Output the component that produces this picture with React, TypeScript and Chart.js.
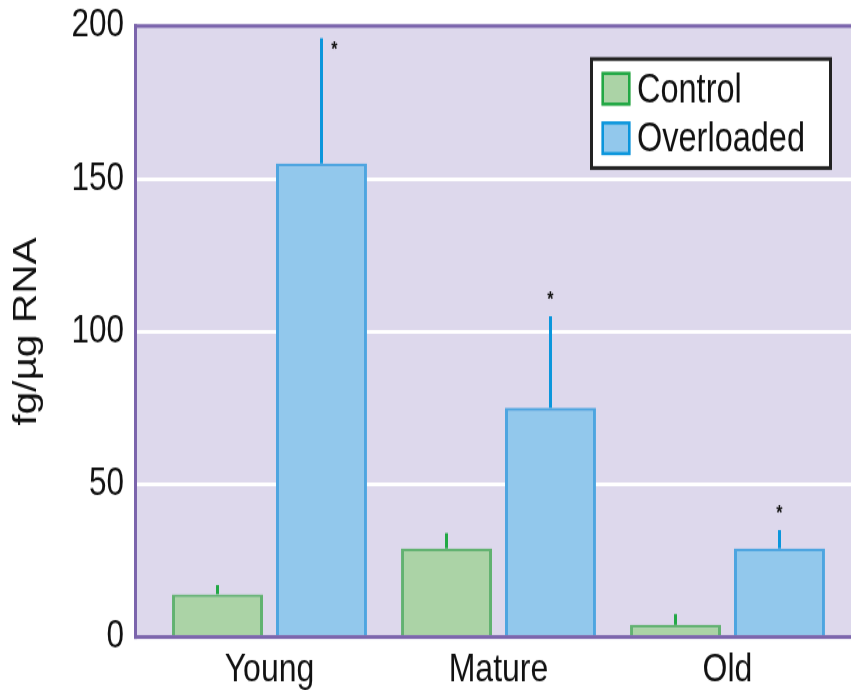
import React, { useEffect, useRef } from "react";
import { Chart, registerables } from "chart.js";

Chart.register(...registerables);

// Age groups along the x axis
const groups = ["Young", "Mature", "Old"];
// Mean expression (fg/µg RNA) and the upper error (SEM) per group
const controlMeans = [14, 29, 4];
const controlErrors = [3, 5, 3.5];
const overloadedMeans = [155, 75, 29];
const overloadedErrors = [41, 30, 6];
// Overloaded significantly different from control
const significant = [true, true, true];
const seriesNames = ["Control", "Overloaded"];
const yTicks = [0, 50, 100, 150, 200];

const FONT = "'Liberation Sans', Arial, Helvetica, sans-serif";
const WIDTH = 851;
const HEIGHT = 690;
// the figure is drawn on a short canvas and shown stretched vertically
const STRETCH = 1.25;
const INNER_H = HEIGHT / STRETCH;

const PLOT_BG = "#DDD8EC";
const FRAME = "#7B64AC";

const plotBackground = {
  id: "plotBackground",
  beforeDraw(chart: any) {
    const { ctx, chartArea } = chart;
    ctx.save();
    ctx.fillStyle = "#ffffff";
    ctx.fillRect(0, 0, chart.width, chart.height);
    ctx.fillStyle = PLOT_BG;
    ctx.fillRect(chartArea.left, chartArea.top, chart.width - chartArea.left, chartArea.bottom - chartArea.top);
    ctx.restore();
  },
};

const errorBars = {
  id: "errorBars",
  afterDatasetsDraw(chart: any) {
    const { ctx, chartArea } = chart;
    const yScale = chart.scales.y;
    ctx.save();
    chart.data.datasets.forEach((ds: any, di: number) => {
      const meta = chart.getDatasetMeta(di);
      meta.data.forEach((bar: any, i: number) => {
        const v = ds.data[i].y;
        const err = ds.errors[i];
        const yTop = yScale.getPixelForValue(v + err);
        ctx.strokeStyle = ds.errorColor;
        ctx.lineWidth = 3;
        ctx.lineCap = "butt";
        ctx.beginPath();
        ctx.moveTo(bar.x, bar.y);
        ctx.lineTo(bar.x, yTop);
        ctx.stroke();
        if (ds.marks && ds.marks[i]) {
          let ax = bar.x;
          let ay = yTop - 15;
          // no room above the whisker: put the mark beside it
          if (ay < chartArea.top + 8) {
            ax = bar.x + 13;
            ay = yTop + 7;
          }
          ctx.fillStyle = "#141414";
          ctx.font = `bold 16px ${FONT}`;
          ctx.textAlign = "center";
          ctx.textBaseline = "middle";
          ctx.fillText("*", ax, ay + 3);
        }
      });
    });
    ctx.restore();
  },
};

const plotFrame = {
  id: "plotFrame",
  afterDatasetsDraw(chart: any) {
    const { ctx, chartArea } = chart;
    ctx.save();
    ctx.fillStyle = FRAME;
    const t = chartArea.top;
    const b = chartArea.bottom;
    const l = chartArea.left;
    ctx.fillRect(l, t - 1.5, chart.width - l, 3);
    ctx.fillRect(l, b - 1.5, chart.width - l, 3);
    ctx.fillRect(l, t - 1.5, 3, b - t + 3);
    ctx.restore();
  },
};

const boxLegend = {
  id: "boxLegend",
  afterDraw(chart: any) {
    const { ctx } = chart;
    const x0 = 591.5;
    const x1 = 830.5;
    const y0 = 47.2;
    const y1 = 134.4;
    ctx.save();
    ctx.fillStyle = "#ffffff";
    ctx.fillRect(x0, y0, x1 - x0, y1 - y0);
    ctx.strokeStyle = "#222222";
    ctx.lineWidth = 3;
    ctx.strokeRect(x0, y0, x1 - x0, y1 - y0);
    chart.data.datasets.forEach((ds: any, i: number) => {
      const cy = 71 + i * 39.6;
      ctx.fillStyle = ds.backgroundColor;
      ctx.fillRect(601.5, cy - 13.5, 29, 27);
      ctx.strokeStyle = ds.errorColor;
      ctx.lineWidth = 2.5;
      ctx.strokeRect(602.75, cy - 12.25, 26.5, 24.5);
      ctx.fillStyle = "#111111";
      ctx.font = `32.5px ${FONT}`;
      ctx.textAlign = "left";
      ctx.textBaseline = "alphabetic";
      ctx.fillText(ds.label, 637, cy + 10.5);
    });
    ctx.restore();
  },
};

export default function App() {
  const canvasRef = useRef<HTMLCanvasElement | null>(null);

  useEffect(() => {
    const canvas = canvasRef.current;
    if (!canvas) return;

    const toPoints = (vals: number[]) => vals.map((y, i) => ({ x: i, y }));

    const chart = new Chart(canvas, {
      type: "bar",
      data: {
        datasets: [
          {
            label: seriesNames[0],
            data: toPoints(controlMeans),
            backgroundColor: "#ABD3A6",
            borderColor: "#62B271",
            borderWidth: { top: 2.4, left: 3, right: 3, bottom: 0 },
            borderSkipped: "start",
            errors: controlErrors,
            errorColor: "#22A845",
            marks: null,
          } as any,
          {
            label: seriesNames[1],
            data: toPoints(overloadedMeans),
            backgroundColor: "#92C8EC",
            borderColor: "#4EA5E0",
            borderWidth: { top: 2.4, left: 3, right: 3, bottom: 0 },
            borderSkipped: "start",
            errors: overloadedErrors,
            errorColor: "#0B96DC",
            marks: significant,
          } as any,
        ],
      },
      options: {
        responsive: false,
        animation: false,
        devicePixelRatio: 1,
        categoryPercentage: 0.908,
        barPercentage: 0.875,
        layout: { padding: { left: 0, right: 0, top: 20.8, bottom: 0 } },
        plugins: {
          legend: { display: false },
          tooltip: { enabled: false },
        },
        scales: {
          x: {
            type: "linear",
            offset: false,
            min: -0.5917,
            max: 2.5393,
            afterBuildTicks: (axis: any) => {
              axis.ticks = groups.map((_, i) => ({ value: i }));
            },
            afterFit: (axis: any) => {
              axis.height = INNER_H - 509.6;
            },
            grid: { display: false, drawTicks: false, offset: false },
            border: { display: false },
            ticks: {
              padding: 7,
              color: "#111111",
              font: { family: FONT, size: 32 },
              callback: (v: any) => groups[v as number] ?? "",
            },
          },
          y: {
            min: 0,
            max: 200,
            afterBuildTicks: (axis: any) => {
              axis.ticks = yTicks.map((value) => ({ value }));
            },
            afterFit: (axis: any) => {
              axis.width = 134;
            },
            grid: {
              drawTicks: false,
              lineWidth: 3,
              color: (c: any) =>
                c.tick && c.tick.value > 0 && c.tick.value < 200 ? "#ffffff" : "rgba(0,0,0,0)",
            },
            border: { display: false },
            ticks: {
              padding: 10,
              color: "#111111",
              font: { family: FONT, size: 31.5, lineHeight: 0.6 },
            },
            title: {
              display: true,
              text: "fg/µg RNA",
              color: "#111111",
              font: { family: FONT, size: 32.5 },
              padding: { top: 8, bottom: 0 },
            },
          },
        },
      } as any,
      plugins: [plotBackground, errorBars, plotFrame, boxLegend],
    });

    return () => chart.destroy();
  }, []);

  return (
    <div style={{ position: "absolute", left: 0, top: 0, width: WIDTH, height: HEIGHT }}>
      <canvas
        ref={canvasRef}
        width={WIDTH}
        height={INNER_H}
        style={{ display: "block", width: `${WIDTH}px`, height: `${HEIGHT}px` }}
      />
    </div>
  );
}
